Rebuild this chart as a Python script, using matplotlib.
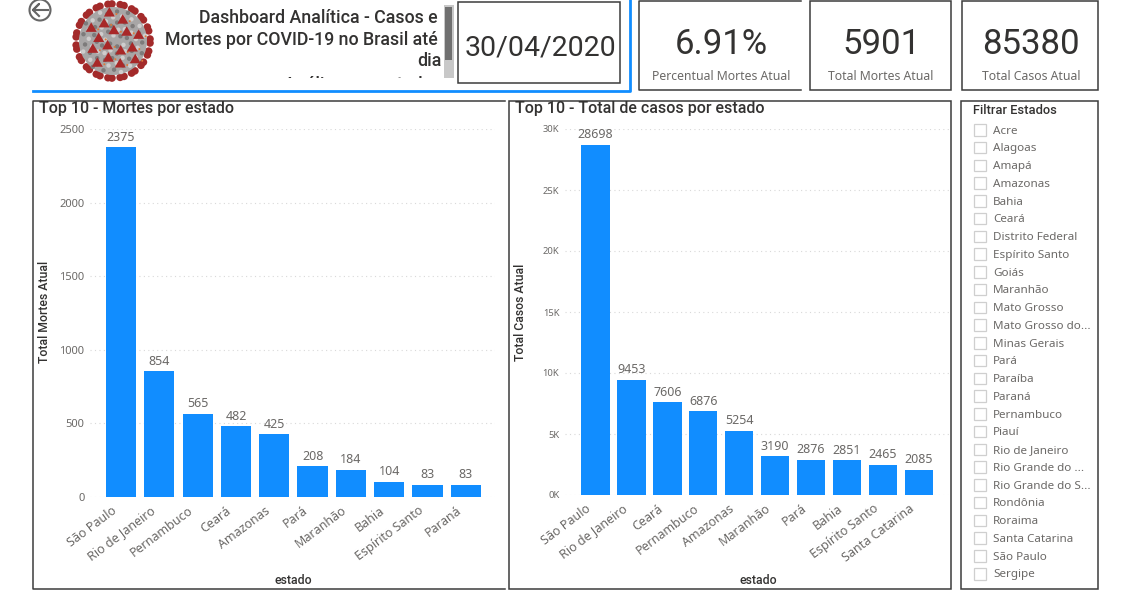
import numpy as np
import matplotlib.pyplot as plt
from matplotlib.patches import Circle, Rectangle, Polygon
from matplotlib.ticker import FuncFormatter

plt.rcParams['font.family'] = ['Noto Sans', 'DejaVu Sans']

estados_mortes = ['São Paulo', 'Rio de Janeiro', 'Pernambuco', 'Ceará', 'Amazonas',
                  'Pará', 'Maranhão', 'Bahia', 'Espírito Santo', 'Paraná']
mortes = [2375, 854, 565, 482, 425, 208, 184, 104, 83, 83]

estados_casos = ['São Paulo', 'Rio de Janeiro', 'Ceará', 'Pernambuco', 'Amazonas',
                 'Maranhão', 'Pará', 'Bahia', 'Espírito Santo', 'Santa Catarina']
casos = [28698, 9453, 7606, 6876, 5254, 3190, 2876, 2851, 2465, 2085]

filtro_estados = ['Acre', 'Alagoas', 'Amapá', 'Amazonas', 'Bahia', 'Ceará', 'Distrito Federal',
                  'Espírito Santo', 'Goiás', 'Maranhão', 'Mato Grosso', 'Mato Grosso do...',
                  'Minas Gerais', 'Pará', 'Paraíba', 'Paraná', 'Pernambuco', 'Piauí',
                  'Rio de Janeiro', 'Rio Grande do ...', 'Rio Grande do S...', 'Rondônia',
                  'Roraima', 'Santa Catarina', 'São Paulo', 'Sergipe']

W, H = 1127, 595
BLUE = '#118DFF'
GREY = '#6b6967'
DARK = '#333231'
EDGE = '#3c3c3c'

fig = plt.figure(figsize=(W / 100, H / 100), dpi=100)

# camada em pixels para os cartoes e molduras
bg = fig.add_axes([0, 0, 1, 1])
bg.set_xlim(0, W)
bg.set_ylim(H, 0)
bg.axis('off')


def moldura(x0, y0, x1, y1, aberto=False):
    if aberto:
        bg.plot([x1, x0, x0, x1], [y0, y0, y1, y1], color=EDGE, lw=1.1)
    else:
        bg.add_patch(Rectangle((x0, y0), x1 - x0, y1 - y0, fill=False, ec=EDGE, lw=1.1))


moldura(458, 2, 620, 83)
moldura(639, 1, 801, 90, aberto=True)
moldura(810, 1, 951, 90)
moldura(962, 1, 1098, 90)
moldura(33, 101, 505, 589, aberto=True)
moldura(509, 101, 951, 589)
moldura(961, 101, 1098, 589)

bg.plot([33, 630, 630], [91, 91, 0], color=BLUE, lw=2)

# cartoes
bg.text(541, 48, '30/04/2020', fontsize=20.5, color=DARK, family='Roboto', ha='center', va='center')
for cx, valor, rotulo in [(721, '6.91%', 'Percentual Mortes Atual'),
                          (881, '5901', 'Total Mortes Atual'),
                          (1031, '85380', 'Total Casos Atual')]:
    bg.text(cx, 44, valor, fontsize=25, color=DARK, family='Roboto', ha='center', va='center')
    bg.text(cx, 76, rotulo, fontsize=8.8, color=GREY, ha='center', va='center')

# titulo com barra de rolagem
TITULO = dict(fontsize=12.8, color=DARK, family='Roboto', fontweight='medium', va='center')
for y, linha in [(18, 'Dashboard Analítica - Casos e'), (40, 'Mortes por COVID-19 no Brasil até')]:
    bg.text(438, y, linha, ha='right', **TITULO)
bg.text(442, 61, 'dia', ha='right', **TITULO)
t = bg.text(358, 85, 'Análise por estado', ha='center', **TITULO)
t.set_clip_on(True)
t.set_clip_path(Rectangle((250, 0), 200, 78, transform=bg.transData))
bg.add_patch(Rectangle((444, 5), 10, 73, color='#c8c8c8', lw=0))
bg.add_patch(Rectangle((445, 7), 7, 53, color='#707070', lw=0))

# seta de voltar
bg.add_patch(Circle((40, 10), 10.5, fill=False, ec='#666666', lw=1.5))
bg.plot([48, 33, 39, 33, 39], [10, 10, 4, 10, 16], color='#666666', lw=1.5)

# virus
centro = (113, 41)
for a in np.arange(0, 2 * np.pi, 2 * np.pi / 19):
    ux, uy = np.cos(a), np.sin(a)
    px, py = -uy, ux
    base = (centro[0] + 28 * ux, centro[1] + 28 * uy)
    topo = (centro[0] + 37 * ux, centro[1] + 37 * uy)
    bg.add_patch(Polygon([(base[0] - 4 * px, base[1] - 4 * py), (base[0] + 4 * px, base[1] + 4 * py),
                          (topo[0] + 1.5 * px, topo[1] + 1.5 * py), (topo[0] - 1.5 * px, topo[1] - 1.5 * py)],
                         color='#8f8f8f', lw=0))
    bg.add_patch(Circle((topo[0] + 2 * px, topo[1] + 2 * py), 3.8, color='#a32a2a', lw=0))
    bg.add_patch(Circle((topo[0] - 2 * px, topo[1] - 2 * py), 3.8, color='#a32a2a', lw=0))
bg.add_patch(Circle(centro, 34, color='#a8a6a6', lw=0))
for i in range(1, 70):
    r = 33 * np.sqrt(i / 70)
    a = i * 2.39996
    bg.add_patch(Circle((centro[0] + r * np.cos(a), centro[1] + r * np.sin(a)), 2.2,
                        color='#7d7b7b' if i % 2 else '#cfcdcd', lw=0))
for i in range(1, 17):
    r = 30 * np.sqrt(i / 17)
    a = i * 2.39996
    cx, cy = centro[0] + r * np.cos(a), centro[1] + r * np.sin(a)
    bg.add_patch(Polygon([(cx, cy - 6), (cx + 5.5, cy + 3.5), (cx - 5.5, cy + 3.5)], color='#a82828', lw=0))
    bg.add_patch(Circle((cx + 7, cy + 1), 1, color='#dc7a3c', lw=0))

# filtro
bg.text(973, 111, 'Filtrar Estados', fontsize=9.3, color=DARK, family='Roboto', va='center',
        fontweight='medium')
for i, nome in enumerate(filtro_estados):
    y = 130 + i * 17.76
    bg.add_patch(Rectangle((974, y - 6), 11.5, 11.5, fill=False, ec='#cfcfcf', lw=0.9))
    bg.text(993, y + 1, nome, fontsize=8.4, color=GREY, va='center')

CARD = dict(fontsize=11.5, color=DARK, family='Roboto', fontweight='medium', va='center')
bg.text(39, 109, 'Top 10 - Mortes por estado', **CARD)
bg.text(515, 109, 'Top 10 - Total de casos por estado', **CARD)


def grafico(x0, x1, y_topo, y_zero, nomes, valores, ymax, passo, xlim, rotulo_y, x_rotulo,
            tam_y, recuo, fmt=None):
    ax = fig.add_axes([x0 / W, 1 - y_zero / H, (x1 - x0) / W, (y_zero - y_topo) / H])
    ax.patch.set_alpha(0)
    pos = np.arange(len(nomes))
    ax.bar(pos, valores, width=0.79, color=BLUE)
    for p, v in zip(pos, valores):
        ax.annotate(str(v), (p, v), xytext=(0, 2.5), textcoords='offset points',
                    ha='center', va='bottom', fontsize=9, color=GREY)
    ax.set_xlim(*xlim)
    ax.set_ylim(0, ymax)
    ax.set_yticks(np.arange(0, ymax + 1, passo))
    if fmt:
        ax.yaxis.set_major_formatter(FuncFormatter(fmt))
    # rotulos ficam um pouco a esquerda da barra, como no power bi
    ax.set_xticks(pos - recuo)
    ax.set_xticklabels(nomes, rotation=37, ha='right', rotation_mode='anchor', fontsize=9, color=GREY)
    ax.tick_params(axis='both', length=0)
    ax.tick_params(axis='x', pad=5)
    ax.tick_params(axis='y', labelsize=tam_y, labelcolor=GREY, pad=4)
    ax.grid(axis='y', color='#d9d9d9', linestyle=(0, (1, 3)), lw=0.8)
    ax.set_axisbelow(True)
    for s in ax.spines.values():
        s.set_visible(False)
    bg.text(x_rotulo, 312, rotulo_y, fontsize=8.8, color=DARK, family='Roboto',
            rotation=90, ha='center', va='center', fontweight='medium')
    bg.text((x0 + x1) / 2 + 1, 580, 'estado', fontsize=8.8, color=DARK, family='Roboto',
            ha='center', va='center', fontweight='medium')
    return ax


grafico(90, 495, 129, 497, estados_mortes, mortes, 2500, 500, (-0.81, 9.76),
        'Total Mortes Atual', 44, 8, 0.26)
grafico(565, 950, 129, 495, estados_casos, casos, 30000, 5000, (-0.85, 9.87),
        'Total Casos Atual', 520, 6.8, 0.28, fmt=lambda v, _: f'{int(v / 1000)}K')

fig.savefig('out.png', dpi=100)
